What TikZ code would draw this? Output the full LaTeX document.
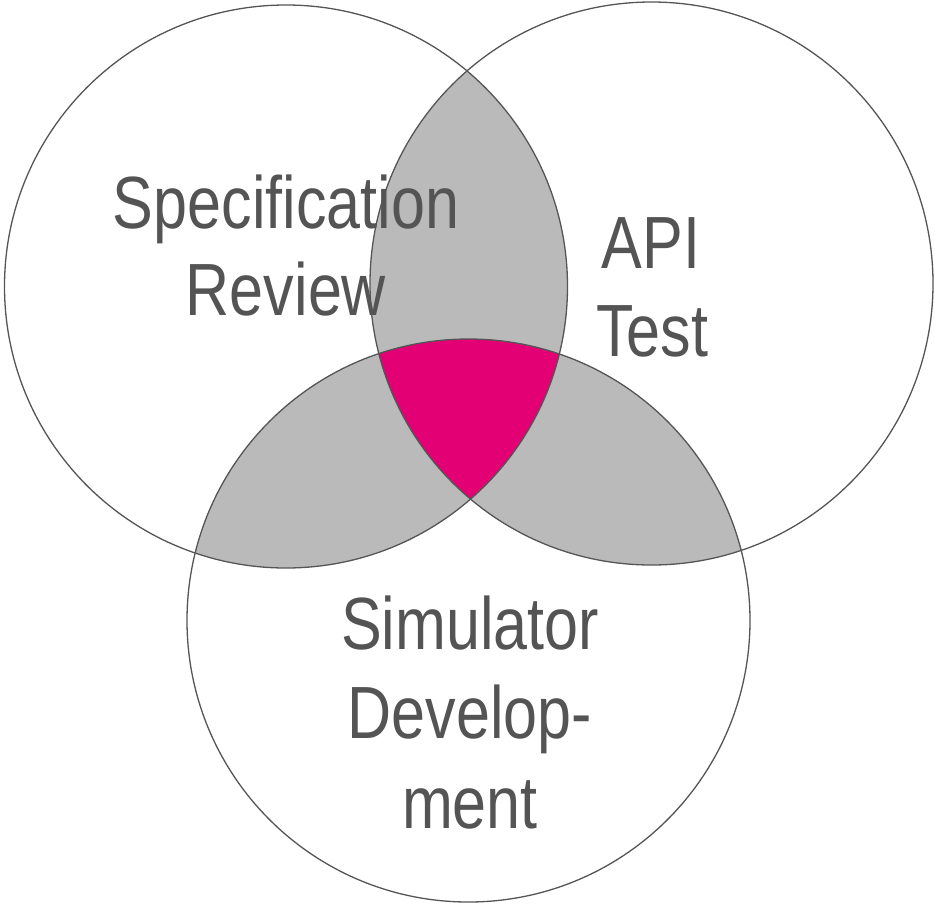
\documentclass[tikz,border=0pt]{standalone}
\usepackage{fontspec}
\setmainfont[FakeStretch=0.825]{Liberation Sans}
\definecolor{ring}{HTML}{555555}
\definecolor{lens}{HTML}{BABABA}
\definecolor{core}{HTML}{E20074}
\definecolor{label}{HTML}{545454}
\begin{document}
\begin{tikzpicture}[x=1pt,y=-1pt,
  ring/.style={draw=ring,line width=1.3pt},
  lbl/.style={anchor=base,inner sep=0pt,text=label,font=\fontsize{74}{88}\selectfont}]
\useasboundingbox (0,0) rectangle (935,903);
% circle centres and radius
\coordinate (cA) at (286,286.5);
\coordinate (cB) at (651.5,283.5);
\coordinate (cC) at (468.5,620.5);
\def\R{281.5}
% pairwise overlaps
\begin{scope}
  \clip (cA) circle (\R);
  \fill[lens] (cB) circle (\R);
  \fill[lens] (cC) circle (\R);
\end{scope}
\begin{scope}
  \clip (cB) circle (\R);
  \fill[lens] (cC) circle (\R);
\end{scope}
% common overlap of all three
\begin{scope}
  \clip (cA) circle (\R);
  \clip (cB) circle (\R);
  \fill[core] (cC) circle (\R);
\end{scope}
% outlines
\draw[ring] (cA) circle (\R);
\draw[ring] (cB) circle (\R);
\draw[ring] (cC) circle (\R);
% labels
\node[lbl] (specA) at (286,228) {Specification};
\node[lbl] (specB) at (286,315) {Review};
\node[lbl] (apiA) at (651,268) {API};
\node[lbl] (apiB) at (652,356) {Test};
\node[lbl] (simA) at (470,649) {Simulator};
\node[lbl] (simB) at (470,738) {Develop-};
\node[lbl] (simC) at (470,828) {ment};
\end{tikzpicture}
\end{document}
